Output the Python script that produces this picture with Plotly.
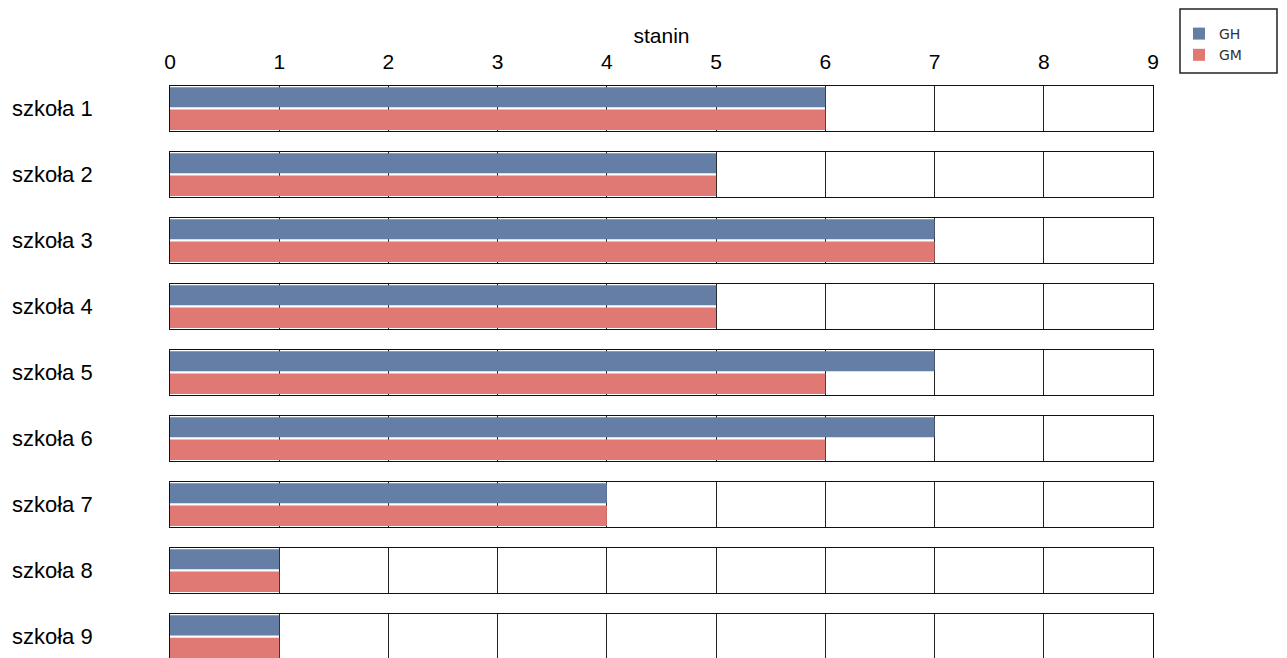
import plotly.graph_objects as go

schools = ["szkoła 1", "szkoła 2", "szkoła 3", "szkoła 4", "szkoła 5",
           "szkoła 6", "szkoła 7", "szkoła 8", "szkoła 9"]
series = ["GH", "GM"]
gh = [6, 5, 7, 5, 7, 7, 4, 1, 1]
gm = [6, 5, 7, 5, 6, 6, 4, 1, 1]
x_ticks = [0, 1, 2, 3, 4, 5, 6, 7, 8, 9]
axis_title = "stanin"

BLUE = "#647EA6"
RED = "#E07873"
FONT = "Liberation Sans, Arial, sans-serif"

OFF = 8  # page body margin
W, H = 1287, 658
ML, MR, MT, MB = 170 - OFF, 134 + OFF, 86 - OFF, 0
plot_h = H - MT - MB
plot_w = W - ML - MR
step = 66
panel_h = 45

fig = go.Figure()
layout_axes = {}
for i, school in enumerate(schools):
    sfx = "" if i == 0 else str(i + 1)
    xa, ya = "x" + sfx, "y" + sfx
    fig.add_trace(go.Bar(y=[series[0]], x=[gh[i]], orientation="h", name=series[0],
                         legendgroup=series[0], showlegend=(i == 0),
                         marker=dict(color=BLUE, line=dict(width=0)),
                         xaxis=xa, yaxis=ya, hoverinfo="x+name"))
    fig.add_trace(go.Bar(y=[series[1]], x=[gm[i]], orientation="h", name=series[1],
                         legendgroup=series[1], showlegend=(i == 0),
                         marker=dict(color=RED, line=dict(width=0)),
                         xaxis=xa, yaxis=ya, hoverinfo="x+name"))
    top = 1 - (step * i) / plot_h
    bot = max(0.0, top - panel_h / plot_h)
    xax = dict(range=[0, 9], tickvals=x_ticks, showgrid=True, gridcolor="#222222",
               gridwidth=1, showline=True, mirror=True, linecolor="#111111", linewidth=1,
               zeroline=False, anchor=ya, domain=[0, 1], fixedrange=True, ticks="")
    if i == 0:
        xax.update(side="top", showticklabels=True,
                   tickfont=dict(family=FONT, size=21, color="#000"),
                   ticklabelstandoff=8,
                   title=dict(text=axis_title, font=dict(family=FONT, size=21, color="#000"),
                              standoff=0))
    else:
        xax.update(showticklabels=False, matches="x")
    yax = dict(domain=[bot, top], anchor=xa, type="category", categoryarray=series,
               range=[1.5, -0.5], showticklabels=False, showgrid=False, showline=True,
               mirror=True, linecolor="#111111", linewidth=1, zeroline=False,
               fixedrange=True, ticks="")
    layout_axes["xaxis" + sfx] = xax
    layout_axes["yaxis" + sfx] = yax
    fig.add_annotation(text=school, xref="paper", yref=ya + " domain",
                       x=(10 - OFF - ML) / plot_w,
                       y=0.5, xanchor="left", yanchor="middle", showarrow=False,
                       font=dict(family=FONT, size=22, color="#000"))

fig.update_layout(**layout_axes)

# legend frame
fig.add_shape(type="rect", xref="paper", yref="paper",
              x0=(1180 - OFF - ML) / plot_w, x1=(1277 - OFF - ML) / plot_w,
              y0=(H - MB - (73 - OFF)) / plot_h, y1=(H - MB - 1) / plot_h,
              line=dict(color="#222", width=1.5), fillcolor="rgba(0,0,0,0)")

fig.update_layout(
    width=W, height=H,
    margin=dict(l=ML, r=MR, t=MT, b=MB),
    paper_bgcolor="white", plot_bgcolor="white",
    barmode="group", bargap=0.1, bargroupgap=0,
    showlegend=True,
    legend=dict(x=(1179 - OFF - ML) / plot_w, y=(H - MB - (18 - OFF)) / plot_h,
                xanchor="left", yanchor="top",
                bgcolor="rgba(0,0,0,0)", borderwidth=0,
                font=dict(family="DejaVu Sans, sans-serif", size=14, color="#333"),
                itemwidth=30, tracegroupgap=0),
)

fig.write_html("out.html")
